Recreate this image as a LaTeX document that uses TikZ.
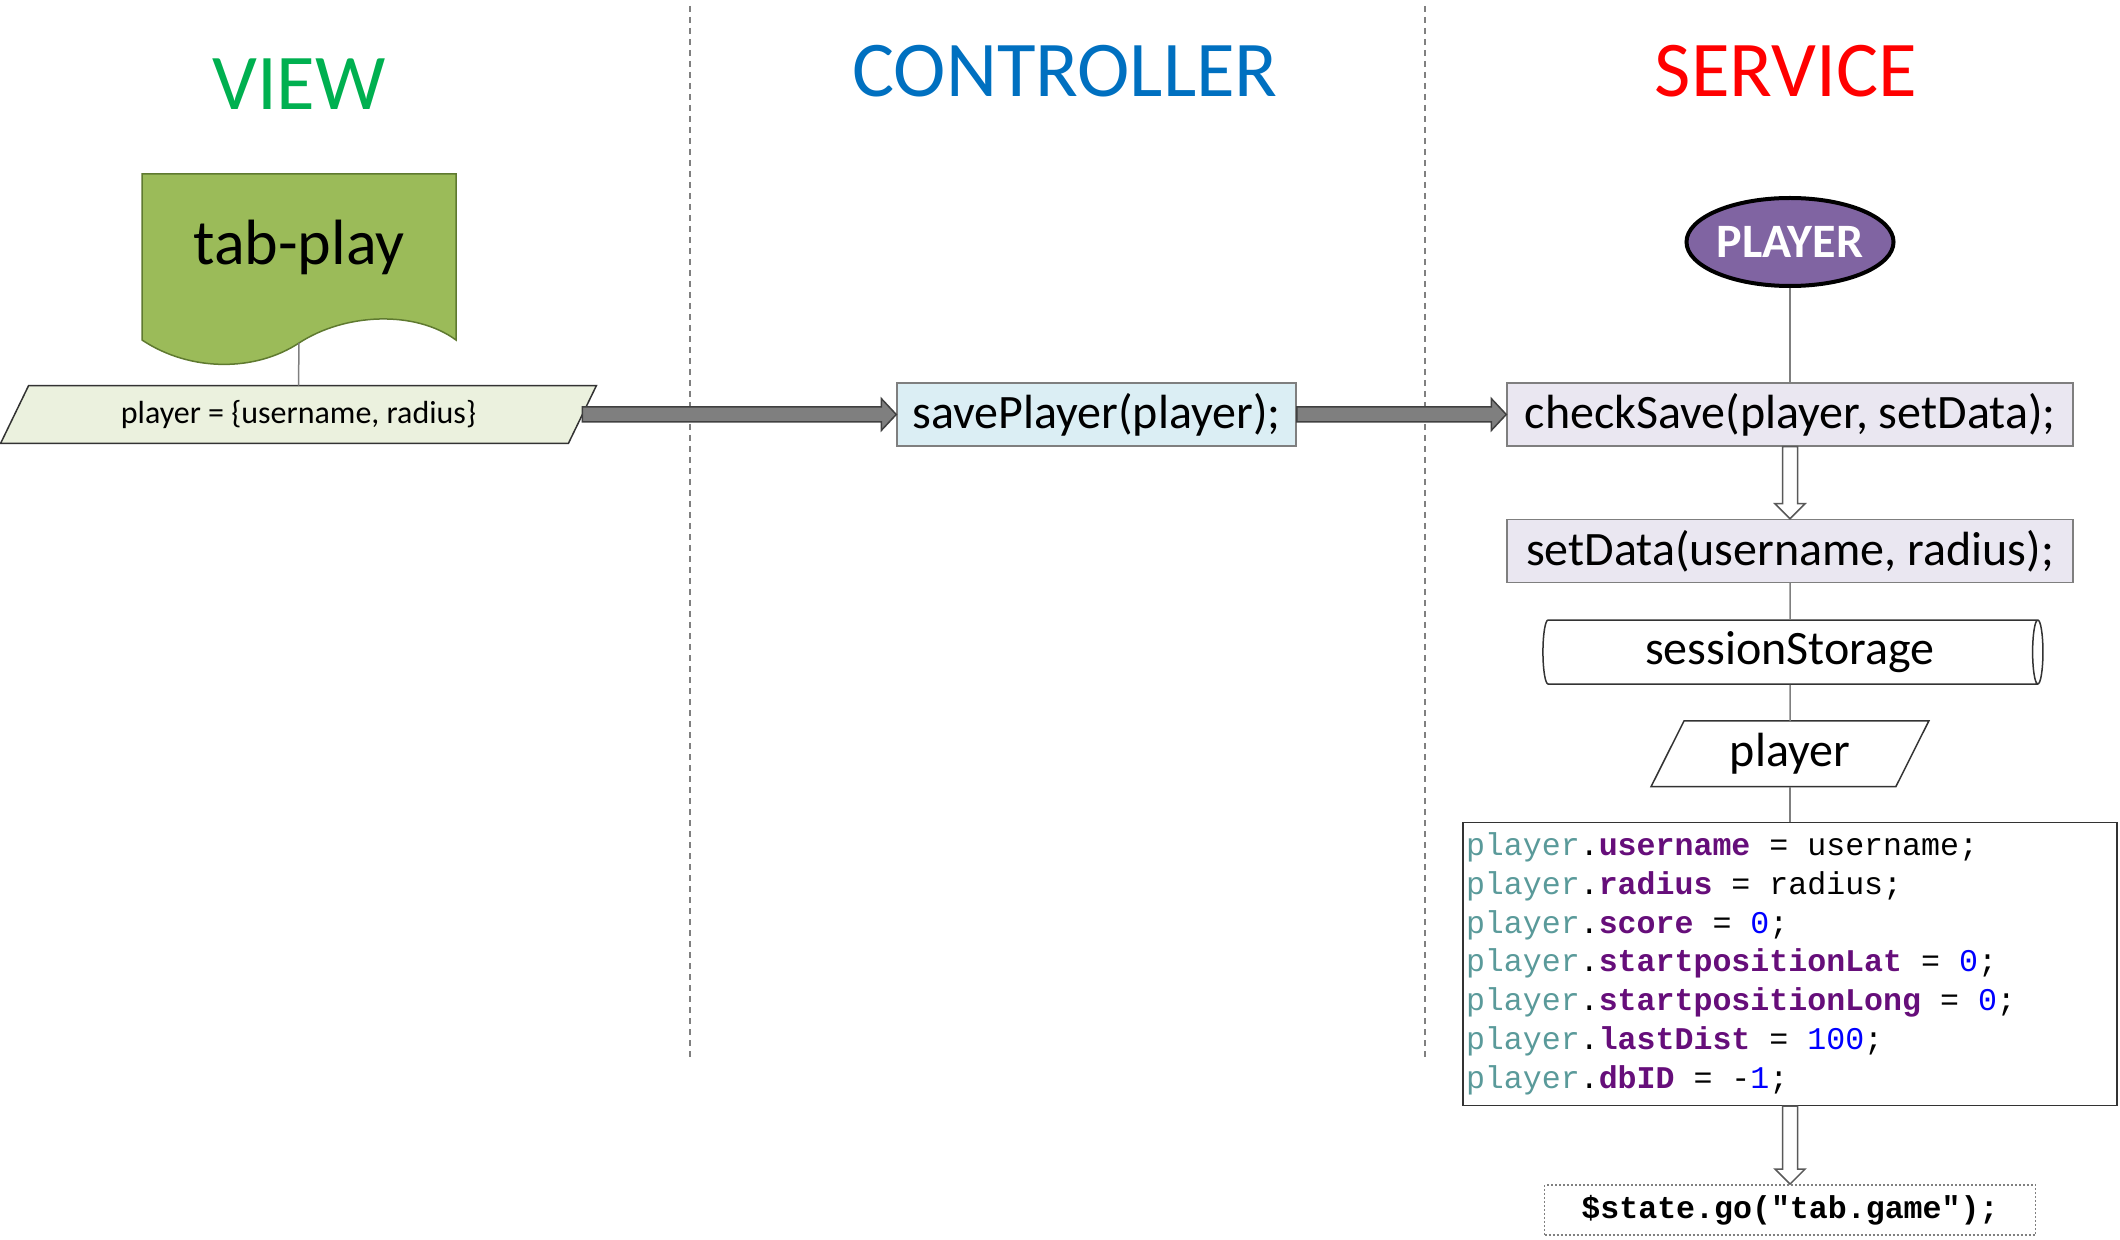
\documentclass[tikz,border=0pt]{standalone}
\usepackage{fontspec}
\setmainfont{Carlito}
\newfontfamily\codefont{Liberation Mono}
\usetikzlibrary{shapes.geometric,positioning,calc,backgrounds}

\definecolor{viewgreen}{HTML}{00B050}
\definecolor{ctrlblue}{HTML}{0070C0}
\definecolor{servred}{HTML}{FF0000}
\definecolor{docgreen}{HTML}{9BBB59}
\definecolor{docline}{HTML}{5F7A30}
\definecolor{pargreen}{HTML}{EBF1DE}
\definecolor{ctrlfill}{HTML}{DBEEF4}
\definecolor{servfill}{HTML}{EAE7F1}
\definecolor{playerpurple}{HTML}{8064A2}
\definecolor{codeteal}{HTML}{5A9A9A}
\definecolor{codepurple}{HTML}{660E7A}
\definecolor{codeblue}{HTML}{0000FF}
\definecolor{linegray}{HTML}{7F7F7F}

\newcommand{\cvar}[1]{\textcolor{codeteal}{#1}}
\newcommand{\cprop}[1]{\textcolor{codepurple}{\bfseries #1}}
\newcommand{\cnum}[1]{\textcolor{codeblue}{#1}}
\newcommand{\ceq}{\hspace{0.6em}=\hspace{0.6em}}

\begin{document}
\begin{tikzpicture}[x=0.5pt,y=-0.5pt,
  title/.style={font=\fontsize{39.5pt}{42pt}\selectfont, anchor=base},
  callbox/.style={draw=linegray, line width=0.75pt, minimum height=31.5pt, inner sep=0pt, font=\fontsize{24pt}{28pt}\selectfont},
  parbox/.style={inner sep=0pt},
  link/.style={draw=linegray, line width=0.75pt},
  divider/.style={draw=gray, line width=0.75pt, dash pattern=on 3pt off 2.5pt},
  fatright/.style={fill=linegray, draw=black!75, line width=0.75pt,
    to path={let \p1=(\tikztostart), \p2=(\tikztotarget) in
      (\x1,\y1+3.75pt) -- (\x2-7.5pt,\y1+3.75pt) -- (\x2-7.5pt,\y1+8pt) -- (\x2,\y1)
      -- (\x2-7.5pt,\y1-8pt) -- (\x2-7.5pt,\y1-3.75pt) -- (\x1,\y1-3.75pt) -- cycle}},
  hollowdown/.style={fill=white, draw=black!65, line width=0.75pt,
    to path={let \p1=(\tikztostart), \p2=(\tikztotarget) in
      (\x1-3.75pt,\y1) -- (\x1-3.75pt,\y2+7.5pt) -- (\x1-7.5pt,\y2+7.5pt) -- (\x1,\y2)
      -- (\x1+7.5pt,\y2+7.5pt) -- (\x1+3.75pt,\y2+7.5pt) -- (\x1+3.75pt,\y1) -- cycle}}]
\useasboundingbox (0,0) rectangle (2120,1240);

% column titles
\node[title, text=viewgreen] (view) at (299,110) {VIEW};
\node[title, text=ctrlblue] (ctrl) at (1065,97) {CONTROLLER};
\node[title, text=servred] (serv) at (1786,97) {SERVICE};

\draw[divider] (690,6) -- (690,1061);
\draw[divider] (1425,6) -- (1425,1061);

% view
\filldraw[fill=docgreen, draw=docline, line width=0.75pt] (142,174) -- (456,174) -- (456,340)
  .. controls (415,310) and (345,313) .. (299,343)
  .. controls (255,372) and (190,372) .. (142,340) -- cycle;
\node[font=\fontsize{32pt}{36pt}\selectfont, anchor=base] (tab) at (299,265) {tab-play};
\coordinate (tabfoot) at (299,343);

\node[parbox, minimum width=297.5pt, minimum height=28.5pt, font=\fontsize{16pt}{19pt}\selectfont] (par) at (298.5,414.5) {player = \{username, radius\}};
\begin{scope}[on background layer]
  \filldraw[fill=pargreen, draw=black!80, line width=0.75pt] ($(par.north west)+(28,0)$) -- (par.north east)
    -- ($(par.south east)+(-28,0)$) -- (par.south west) -- cycle;
\end{scope}
\draw[link] (tabfoot) -- (par.north);

% controller
\node[callbox, fill=ctrlfill, minimum width=199.5pt] (save) at (1096.5,414.5) {savePlayer(player);};
\draw[fatright] ([xshift=-7pt]par.east) to (save.west);

% service
\node[ellipse, fill=playerpurple, draw=black, line width=2pt, minimum width=92pt, minimum height=44pt, inner sep=0pt,
  text=white, font=\bfseries\fontsize{24pt}{28pt}\selectfont] (player) at (1790,242) {PLAYER};
\node[callbox, fill=servfill, minimum width=283pt] (check) at (1790,414.5) {checkSave(player, setData);};
\draw[fatright] (save.east) to (check.west);
\node[callbox, fill=servfill, minimum width=283pt, below=36pt of check] (setdata) {setData(username, radius);};
\node[cylinder, draw=black!80, line width=0.75pt, aspect=0.25, minimum height=250pt, minimum width=32pt, inner sep=0pt,
  below=18pt of setdata, font=\fontsize{24pt}{28pt}\selectfont] (store) {sessionStorage};
\node[parbox, minimum width=138.5pt, minimum height=32.5pt, below=18pt of store, font=\fontsize{24pt}{28pt}\selectfont] (pl) {player};
\draw[draw=black!80, line width=0.75pt] ($(pl.north west)+(33,0)$) -- (pl.north east)
  -- ($(pl.south east)+(-33,0)$) -- (pl.south west) -- cycle;
\node[draw=black!80, line width=0.75pt, minimum width=327pt, minimum height=141.5pt, text width=324pt, inner xsep=1.5pt, align=left,
  below=17.5pt of pl, font=\codefont\fontsize{15.8pt}{19.4pt}\selectfont] (code) {%
\cvar{player}.\cprop{username}\ceq username;\\
\cvar{player}.\cprop{radius}\ceq radius;\\
\cvar{player}.\cprop{score}\ceq\cnum{0};\\
\cvar{player}.\cprop{startpositionLat}\ceq\cnum{0};\\
\cvar{player}.\cprop{startpositionLong}\ceq\cnum{0};\\
\cvar{player}.\cprop{lastDist}\ceq\cnum{100};\\
\cvar{player}.\cprop{dbID}\ceq-\cnum{1};};
\node[draw=gray, line width=0.75pt, dash pattern=on 1pt off 1pt, minimum width=245.5pt, minimum height=25pt, inner sep=0pt,
  below=39pt of code, font=\codefont\bfseries\fontsize{15.8pt}{19pt}\selectfont] (state) {\$state.go("tab.game");};

\draw[link] (player) -- (check);
\draw[hollowdown] (check.south) to (setdata.north);
\draw[link] (setdata) -- (store);
\draw[link] (store) -- (pl);
\draw[link] (pl) -- (code);
\draw[hollowdown] (code.south) to (state.north);
\end{tikzpicture}
\end{document}
